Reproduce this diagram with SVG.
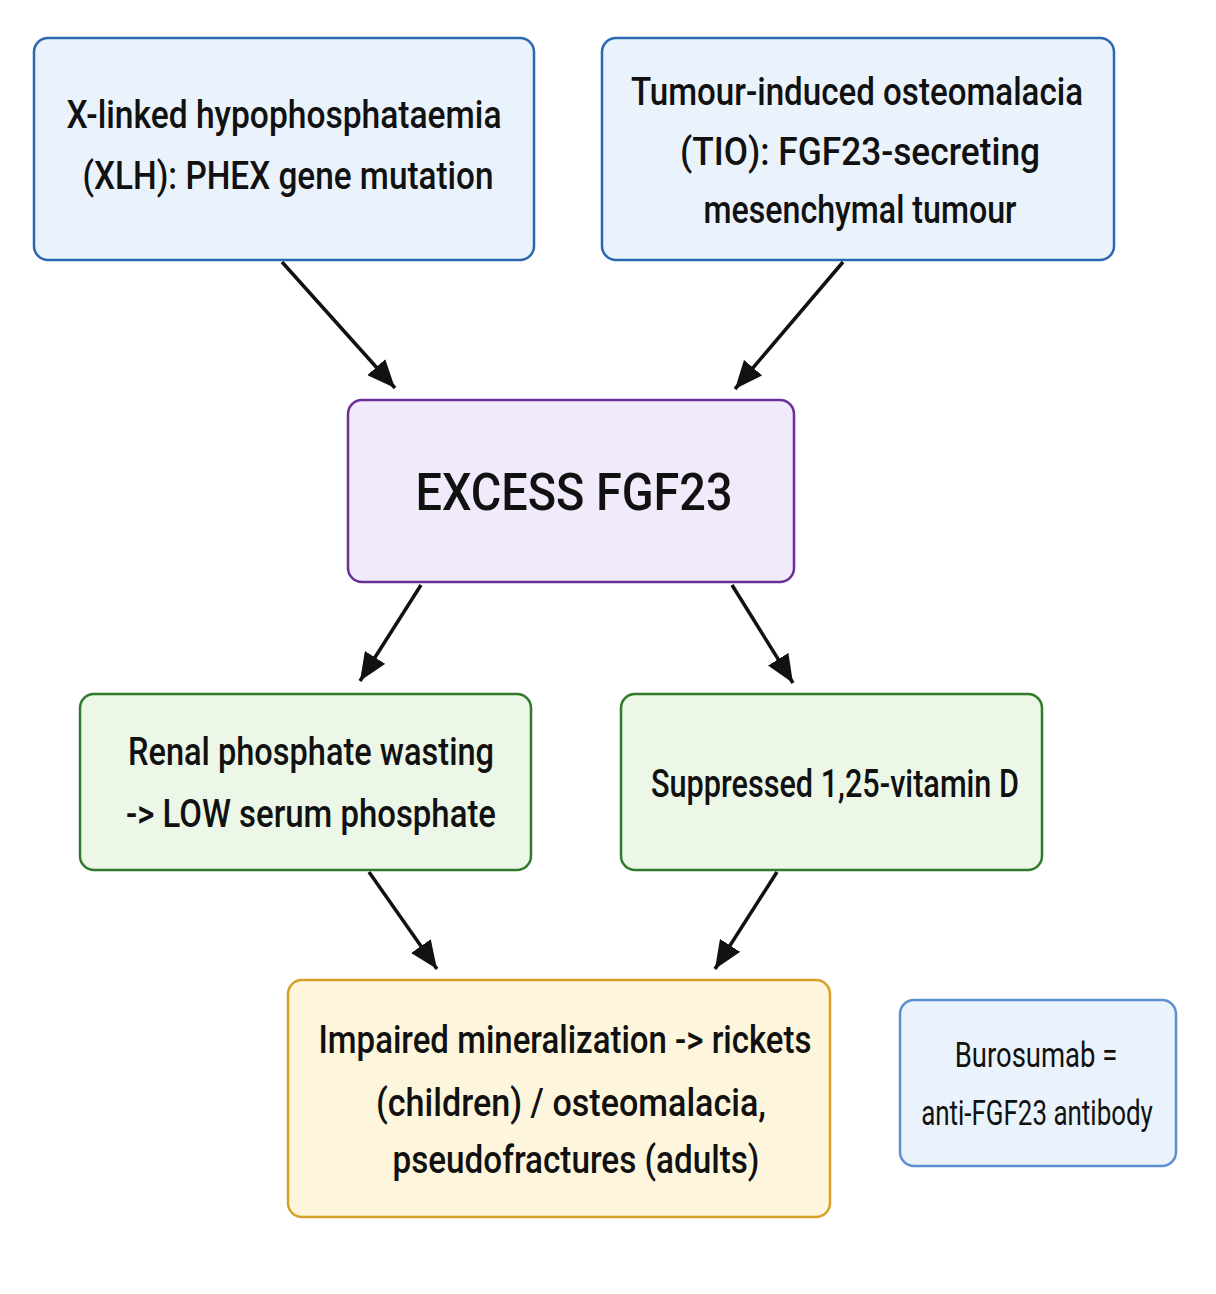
<svg xmlns="http://www.w3.org/2000/svg" width="1216" height="1294" viewBox="0 0 1216 1294">
<style>
.t{font-family:Roboto,"Liberation Sans",sans-serif;font-weight:500;fill:#111;text-anchor:middle}
.s{font-size:38px}
.r{font-family:Roboto,"Liberation Sans",sans-serif;font-weight:400;fill:#111;text-anchor:middle;font-size:35px}
.blue{fill:#eaf3fc;stroke:#2b68b0;stroke-width:2.5}
.blue2{fill:#eaf3fc;stroke:#5b8fd0;stroke-width:2.5}
.purple{fill:#f1eafb;stroke:#6a2f98;stroke-width:2.5}
.green{fill:#ecf7e8;stroke:#2f7a2b;stroke-width:2.5}
.yellow{fill:#fdf6dc;stroke:#d5a126;stroke-width:2.5}
.c{stroke:#111;stroke-width:3.5;fill:none;marker-end:url(#ah)}
</style>
<defs>
<marker id="ah" markerUnits="userSpaceOnUse" markerWidth="30" markerHeight="24" refX="28" refY="12" orient="auto">
<path d="M0,0 L28,12 L0,24 z" fill="#111"/>
</marker>
</defs>
<rect width="1216" height="1294" fill="#ffffff"/>
<g id="connectors">
<line class="c" x1="282" y1="262" x2="395" y2="388"/>
<line class="c" x1="843" y1="262" x2="735" y2="389"/>
<line class="c" x1="421" y1="585" x2="360" y2="681"/>
<line class="c" x1="732" y1="585" x2="793" y2="683"/>
<line class="c" x1="369" y1="872" x2="437" y2="969"/>
<line class="c" x1="777" y1="872" x2="715" y2="969"/>
</g>
<g id="xlh">
<rect class="blue" x="34" y="38" width="500" height="222" rx="14"/>
<text class="t s" x="284" y="128" textLength="435" lengthAdjust="spacingAndGlyphs">X-linked hypophosphataemia</text>
<text class="t s" x="288" y="189" textLength="411" lengthAdjust="spacingAndGlyphs">(XLH): PHEX gene mutation</text>
</g>
<g id="tio">
<rect class="blue" x="602" y="38" width="512" height="222" rx="14"/>
<text class="t s" x="857" y="105" textLength="452" lengthAdjust="spacingAndGlyphs">Tumour-induced osteomalacia</text>
<text class="t s" x="860" y="165" textLength="360" lengthAdjust="spacingAndGlyphs">(TIO): FGF23-secreting</text>
<text class="t s" x="860" y="223" textLength="313" lengthAdjust="spacingAndGlyphs">mesenchymal tumour</text>
</g>
<g id="fgf23">
<rect class="purple" x="348" y="400" width="446" height="182" rx="14"/>
<text class="t" x="574" y="510" font-size="52" font-weight="600" textLength="317" lengthAdjust="spacingAndGlyphs">EXCESS FGF23</text>
</g>
<g id="renal">
<rect class="green" x="80" y="694" width="451" height="176" rx="14"/>
<text class="t s" x="311" y="765" textLength="366" lengthAdjust="spacingAndGlyphs">Renal phosphate wasting</text>
<text class="t s" x="311" y="827" textLength="370" lengthAdjust="spacingAndGlyphs">-&gt; LOW serum phosphate</text>
</g>
<g id="vitd">
<rect class="green" x="621" y="694" width="421" height="176" rx="14"/>
<text class="t s" x="835" y="797" textLength="368" lengthAdjust="spacingAndGlyphs">Suppressed 1,25-vitamin D</text>
</g>
<g id="mineral">
<rect class="yellow" x="288" y="980" width="542" height="237" rx="14"/>
<text class="t s" x="565" y="1053" textLength="493" lengthAdjust="spacingAndGlyphs">Impaired mineralization -&gt; rickets</text>
<text class="t s" x="571" y="1116" textLength="390" lengthAdjust="spacingAndGlyphs">(children) / osteomalacia,</text>
<text class="t s" x="576" y="1173" textLength="367" lengthAdjust="spacingAndGlyphs">pseudofractures (adults)</text>
</g>
<g id="burosumab">
<rect class="blue2" x="900" y="1000" width="276" height="166" rx="14"/>
<text class="r" transform="translate(1036,1067) scale(0.75,1)" x="0" y="0" textLength="217" lengthAdjust="spacingAndGlyphs">Burosumab =</text>
<text class="r" transform="translate(1037,1125) scale(0.75,1)" x="0" y="0" textLength="309" lengthAdjust="spacingAndGlyphs">anti-FGF23 antibody</text>
</g>
</svg>
